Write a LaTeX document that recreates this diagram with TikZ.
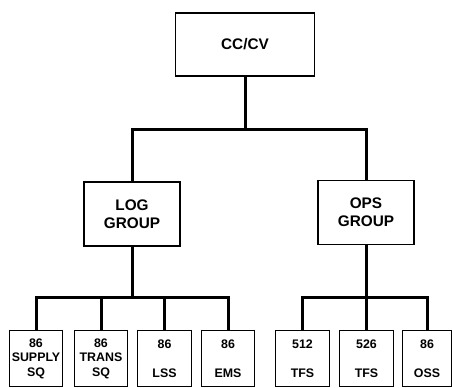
\documentclass[tikz,border=0pt]{standalone}
\usepackage{fontspec}
\setmainfont{Liberation Sans}
\begin{document}
\begin{tikzpicture}[x=0.75pt,y=0.75pt,yscale=-1,xscale=1,
  unit/.style={draw, line width=0.8pt, inner sep=0pt, align=center, font=\bfseries\fontsize{11.5}{13.5}\selectfont},
  squad/.style={draw, line width=0.8pt, inner sep=0pt, minimum width=40pt, minimum height=42pt, align=center, font=\bfseries\fontsize{9.3}{10.8}\selectfont},
  link/.style={line width=2.25pt, line join=miter}]
\useasboundingbox (0,0) rectangle (452,387);
%Shape: Rectangle (top)
\node[unit, minimum width=104pt, minimum height=47.25pt] (cccv) at (245,44.5) {CC/CV};
%Shape: Rectangle (groups)
\node[unit, minimum width=72pt, minimum height=48pt] (log) at (132,214) {LOG\\GROUP};
\node[unit, minimum width=72pt, minimum height=48pt] (ops) at (366,212.5) {OPS\\GROUP};
%Shape: Rectangle (squadrons)
\node[squad] (supply) at (36,358.5) {86\\SUPPLY\\SQ};
\node[squad] (trans) at (101,358.5) {86\\TRANS\\SQ};
\node[squad] (lss) at (164.5,358.5) {86\\[10.8pt]LSS};
\node[squad] (ems) at (228,358.5) {86\\[10.8pt]EMS};
\node[squad] (tfsa) at (302.5,358.5) {512\\[10.8pt]TFS};
\node[squad] (tfsb) at (366.5,358.5) {526\\[10.8pt]TFS};
\node[squad, minimum width=36.75pt] (oss) at (427,358.5) {86\\[10.8pt]OSS};
%Bus levels
\coordinate (topbus) at (245,129);
\coordinate (logbus) at (132,297);
\coordinate (opsbus) at (366,297);
%Straight Lines (top bus)
\draw[link] (cccv.south) -- (cccv.south |- topbus);
\draw[link] (log.north) |- (ops.north |- topbus) -- (ops.north);
%Straight Lines (log bus)
\draw[link] (log.south) -- (log.south |- logbus);
\draw[link] (supply.north) |- (ems.north |- logbus) -- (ems.north);
\draw[link] (trans.north) -- (trans.north |- logbus);
\draw[link] (lss.north) -- (lss.north |- logbus);
%Straight Lines (ops bus)
\draw[link] (ops.south) -- (ops.south |- opsbus);
\draw[link] (tfsa.north) |- (oss.north |- opsbus) -- (oss.north);
\draw[link] (tfsb.north) -- (tfsb.north |- opsbus);
\end{tikzpicture}
\end{document}
